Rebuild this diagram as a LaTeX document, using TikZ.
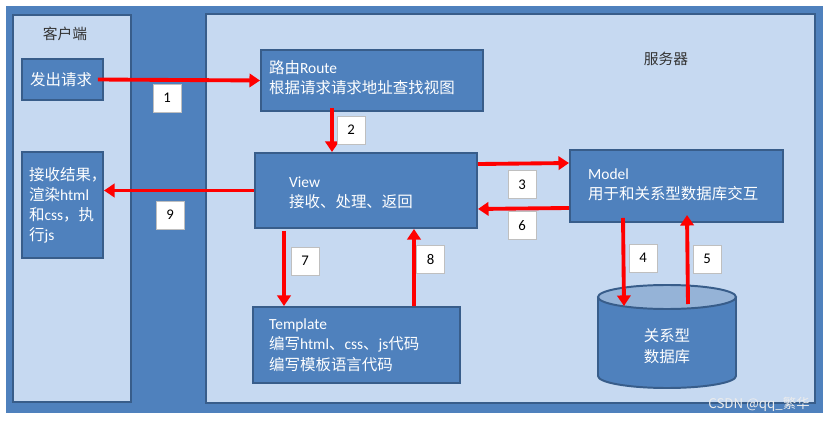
\documentclass[tikz,border=0pt]{standalone}
\usepackage{fontspec}
\setmainfont{Carlito}
\newfontfamily\cjk{Noto Sans CJK SC}
\newcommand\zh[1]{{\cjk #1}}
\usetikzlibrary{arrows.meta,calc,fit,positioning}

\definecolor{azulosc}{RGB}{79,129,189}
\definecolor{azulclaro}{RGB}{198,217,241}
\definecolor{borde}{RGB}{56,93,138}
\definecolor{azultapa}{RGB}{149,179,215}

\tikzset{
  zona/.style={draw=borde, line width=3.5pt, fill=azulclaro, inner sep=0pt},
  caja/.style={draw=borde, line width=2.8pt, fill=azulosc, inner sep=0pt},
  texto/.style={text=white, align=left, anchor=base west, inner sep=0pt,
    font=\fontsize{22}{28.5}\selectfont},
  titulo/.style={text=black!80, anchor=base, inner sep=0pt,
    font=\cjk\fontsize{21}{21}\selectfont},
  numero/.style={draw=black!25, line width=1.3pt, fill=white, minimum size=39.8pt,
    inner sep=0pt, font=\fontsize{21}{21}\selectfont},
  flecha/.style={red, line width=5.5pt, -{Triangle[length=15pt,width=19pt]}},
}

\begin{document}
\begin{tikzpicture}[x=0.5mm, y=-0.5mm]
  \useasboundingbox (0,0) rectangle (829,422);
  % Fondo
  \fill[azulosc] (6,6) rectangle (823,413);

  % Zonas cliente / servidor
  \node[zona, fit={(13,15) (131,402)}] (cliente) {};
  \node[zona, fit={(206,14) (815,403)}] (servidor) {};
  \node[titulo] at (65,40) {客户端};
  \node[titulo] at (666,65) {服务器};

  % Cajas
  \node[caja, fit={(22,59) (103,100)}] (send) {};
  \node[caja, fit={(22,152) (103,258)}] (recv) {};
  \node[caja, fit={(261,50) (483,111)}] (route) {};
  \node[caja, fit={(255,153) (477,228)}] (view) {};
  \node[caja, fit={(570,150) (783,222)}] (model) {};
  \node[caja, fit={(253,307) (460,383)}] (template) {};

  % Base de datos (cilindro)
  \coordinate (db) at (667,297);
  \filldraw[fill=azulosc, draw=borde, line width=2.8pt]
    (598,297) -- (598,376) arc[start angle=180, end angle=0, x radius=69, y radius=12]
    -- (736,297);
  \filldraw[fill=azultapa, draw=borde, line width=2.8pt] (db) ellipse[x radius=69, y radius=12];

  % Textos
  \node[texto] at (30,86) {\zh{发出请求}};
  \node[texto] at (29,240.5) {\zh{接收结果，}\\\zh{渲染}html\\\zh{和}css\zh{，执}\\\zh{行}js};
  \node[texto] at (269,94) {\zh{路由}Route\\\zh{根据请求请求地址查找视图}};
  \node[texto] at (289,208) {View\\\zh{接收、处理、返回}};
  \node[texto] at (588,200) {Model\\\zh{用于和关系型数据库交互}};
  \node[texto] at (269,370) {Template\\\zh{编写}html\zh{、}css\zh{、}js\zh{代码}\\\zh{编写模板语言代码}};
  \node[texto, align=center, anchor=base] (dbtxt) at (667,362) {\zh{关系型}\\\zh{数据库}};

  % Flechas
  \draw[flecha] ($(send.east)+(-6,0)$) -- (route.west);
  \draw[flecha] ($(route.south west)+(72,-4)$) -- ($(view.north west)+(78,0)$);
  \draw[flecha] ($(view.north east)+(0,12)$) -- ($(model.north west)+(0,14)$);
  \draw[flecha] ($(model.south west)+(54,-5)$) -- ($(db)+(-43,9)$);
  \draw[flecha] ($(db)+(21,7)$) -- ($(model.south west)+(118,-8)$);
  \draw[flecha] ($(model.south west)+(0,-15)$) -- ($(view.south east)+(0,-20)$);
  \draw[flecha] ($(view.south west)+(30,2)$) -- ($(template.north west)+(32,0)$);
  \draw[flecha] ($(template.north east)+(-47,0)$) -- ($(view.south east)+(-64,0)$);
  \draw[flecha] (view.west) -- (view.west -| recv.east);

  % Numeros
  \node[numero] (n1) at (167,98) {1};
  \node[numero] (n2) at (351,130) {2};
  \node[numero] (n3) at (522,184.5) {3};
  \node[numero] (n4) at (643,258) {4};
  \node[numero] (n5) at (707,259) {5};
  \node[numero] (n6) at (522,225.5) {6};
  \node[numero] (n7) at (305,261) {7};
  \node[numero] (n8) at (430.5,259.5) {8};
  \node[numero] (n9) at (170,215) {9};

  % Marca
  \node[text=white!85!gray, font=\cjk\fontsize{19}{19}\selectfont, inner sep=0pt] (marca) at (759,404) {CSDN @qq\_繁华};
\end{tikzpicture}
\end{document}
